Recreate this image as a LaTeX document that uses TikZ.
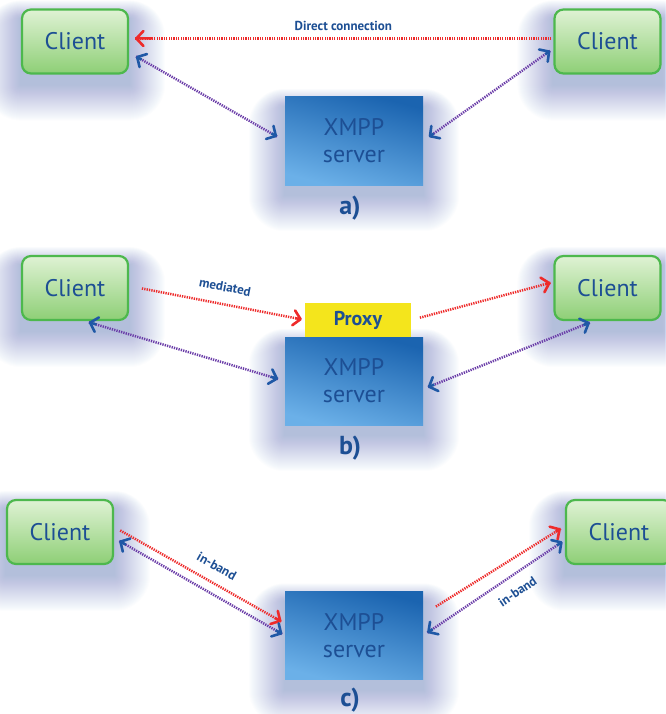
\documentclass[tikz,border=0pt]{standalone}
\usepackage{fontspec}
\setmainfont{PT Sans}
\usetikzlibrary{arrows.meta,backgrounds,calc}
\definecolor{txtblue}{HTML}{1D4F94}
\definecolor{arrblue}{HTML}{1F58A6}
\definecolor{linkpurple}{HTML}{6A3CA8}
\definecolor{linkred}{HTML}{EE2A2A}
\definecolor{cltop}{HTML}{DFF2D4}
\definecolor{clbot}{HTML}{8ECF76}
\definecolor{clborder}{HTML}{4DB84D}
\definecolor{srvtop}{HTML}{1B64B0}
\definecolor{srvbot}{HTML}{6BB0E8}
\definecolor{proxyyel}{HTML}{F4E51C}
\definecolor{glowcol}{HTML}{4A72C8}
\tikzset{
  client/.style={draw=clborder, line width=2.2pt, rounded corners=9pt,
    top color=cltop, bottom color=clbot, minimum width=106pt, minimum height=64pt,
    text=txtblue, font=\fontsize{24}{28}\selectfont, inner sep=0pt},
  server/.style={top color=srvtop, bottom color=srvbot, shading angle=-15,
    minimum width=138pt, minimum height=88pt, text=txtblue, align=center,
    font=\fontsize{24}{27}\selectfont, inner sep=0pt},
  proxybox/.style={fill=proxyyel, minimum width=106pt, minimum height=34pt,
    text=txtblue, font=\bfseries\fontsize{20}{24}\selectfont, inner sep=0pt},
  panellbl/.style={text=txtblue, font=\bfseries\fontsize{26}{30}\selectfont},
  lbl/.style={text=txtblue, font=\bfseries\fontsize{13}{15}\selectfont},
  purpleline/.style={line width=2.5pt, draw=linkpurple, dash pattern=on 1.3pt off 1.1pt},
  redline/.style={line width=2.5pt, draw=linkred, dash pattern=on 1.3pt off 1.1pt},
  bluetip/.style={line width=2.5pt, draw=arrblue, solid,
    arrows={-Straight Barb[length=7pt,width=15pt,line width=2.6pt,round]}},
  redtip/.style={line width=2.5pt, draw=linkred, solid,
    arrows={-Straight Barb[length=7pt,width=15pt,line width=2.6pt,round]}}
}
% #1 line style, #2 from, #3 to, #4 shorten start, #5 shorten end, #6 label node
\newcommand{\duplex}[6]{%
  \coordinate (cA) at ($(#2)!#4!(#3)$);
  \coordinate (cB) at ($(#3)!#5!(#2)$);
  \draw[#1] (cA) -- #6 (cB);
  \draw[bluetip] ($(cA)!0.96!(cB)$) -- (cB);
  \draw[bluetip] ($(cB)!0.96!(cA)$) -- (cA);
}
\newcommand{\simplex}[6]{%
  \coordinate (cA) at ($(#2)!#4!(#3)$);
  \coordinate (cB) at ($(#3)!#5!(#2)$);
  \draw[#1] (cA) -- #6 (cB);
  \draw[redtip] ($(cA)!0.96!(cB)$) -- (cB);
}
\newcommand{\myglow}[1]{%
  \foreach \r in {1,...,36}{
    \fill[glowcol, opacity=0.012, rounded corners=\r pt]
      ($(#1.south west)+(-\r,\r+10)$) rectangle ($(#1.north east)+(\r,-0.5*\r+10)$);
  }}
\begin{document}
\begin{tikzpicture}[x=1pt,y=-1pt]
\useasboundingbox (0,0) rectangle (665,714);

% ---------- panel a ----------
\node[client] (cla) at (75,41.5) {Client};
\node[client] (cra) at (607.5,41.5) {Client};
\node[server] (sa) at (354,141) {XMPP\\server};
\node[panellbl] (pa) at (350,208) {a)};
\coordinate (a1) at ([yshift=3pt]cra.west);
\coordinate (a2) at ([yshift=3pt]cla.east);
\simplex{redline}{a1}{a2}{2pt}{6pt}{node[lbl, above=3pt] (dclbl) {Direct connection}}
\coordinate (a3) at ([yshift=-11pt]cla.east);
\duplex{purpleline}{a3}{sa.west}{8pt}{9pt}{}
\coordinate (a4) at ([yshift=-7pt]cra.west);
\duplex{purpleline}{a4}{sa.east}{4pt}{7pt}{}

% ---------- panel b ----------
\node[client] (clb) at (75,288) {Client};
\node[client] (crb) at (607.5,288) {Client};
\node[proxybox] (px) at (358,320) {Proxy};
\node[server] (sb) at (354,381) {XMPP\\server};
\node[panellbl] (pb) at (350,448) {b)};
\coordinate (b1) at ([yshift=2pt]clb.east);
\simplex{redline}{b1}{px.west}{13pt}{3pt}{node[lbl, sloped, above=8pt] (medlbl) {mediated}}
\coordinate (b2) at ([yshift=6pt]crb.west);
\simplex{redline}{px.east}{b2}{9pt}{3pt}{}
\coordinate (b3) at ([xshift=10pt]clb.south);
\duplex{purpleline}{b3}{sb.west}{4pt}{7pt}{}
\coordinate (b4) at ([xshift=-14pt]crb.south);
\coordinate (b5) at ([yshift=-8pt]sb.east);
\duplex{purpleline}{b4}{b5}{4pt}{5pt}{}

% ---------- panel c ----------
\node[client] (clc) at (60,532) {Client};
\node[client] (crc) at (619,532) {Client};
\node[server] (sc) at (354,635.5) {XMPP\\server};
\node[panellbl] (pc) at (350,700) {c)};
\coordinate (c1) at ([yshift=5pt]clc.east);
\coordinate (c2) at ([yshift=12pt]sc.west);
\simplex{redline}{c1}{c2}{7pt}{4pt}{node[lbl, sloped, above=7pt, pos=0.55] (ib1) {in-band}}
\coordinate (c3) at ([yshift=-6pt]clc.east);
\duplex{purpleline}{c3}{sc.west}{6pt}{3pt}{}
\coordinate (c4) at ([yshift=21pt]sc.east);
\coordinate (c5) at ([yshift=6pt]crc.west);
\simplex{redline}{c4}{c5}{15pt}{5pt}{}
\coordinate (c6) at ([yshift=-8pt]crc.west);
\duplex{purpleline}{sc.east}{c6}{5pt}{3pt}{node[lbl, sloped, below=7pt, pos=0.6] (ib2) {in-band}}

\begin{scope}[on background layer]
  \fill[white] (0,0) rectangle (665,714);
  \myglow{cla}\myglow{cra}\myglow{sa}
  \myglow{clb}\myglow{crb}\myglow{sb}
  \myglow{clc}\myglow{crc}\myglow{sc}
\end{scope}
\end{tikzpicture}
\end{document}
